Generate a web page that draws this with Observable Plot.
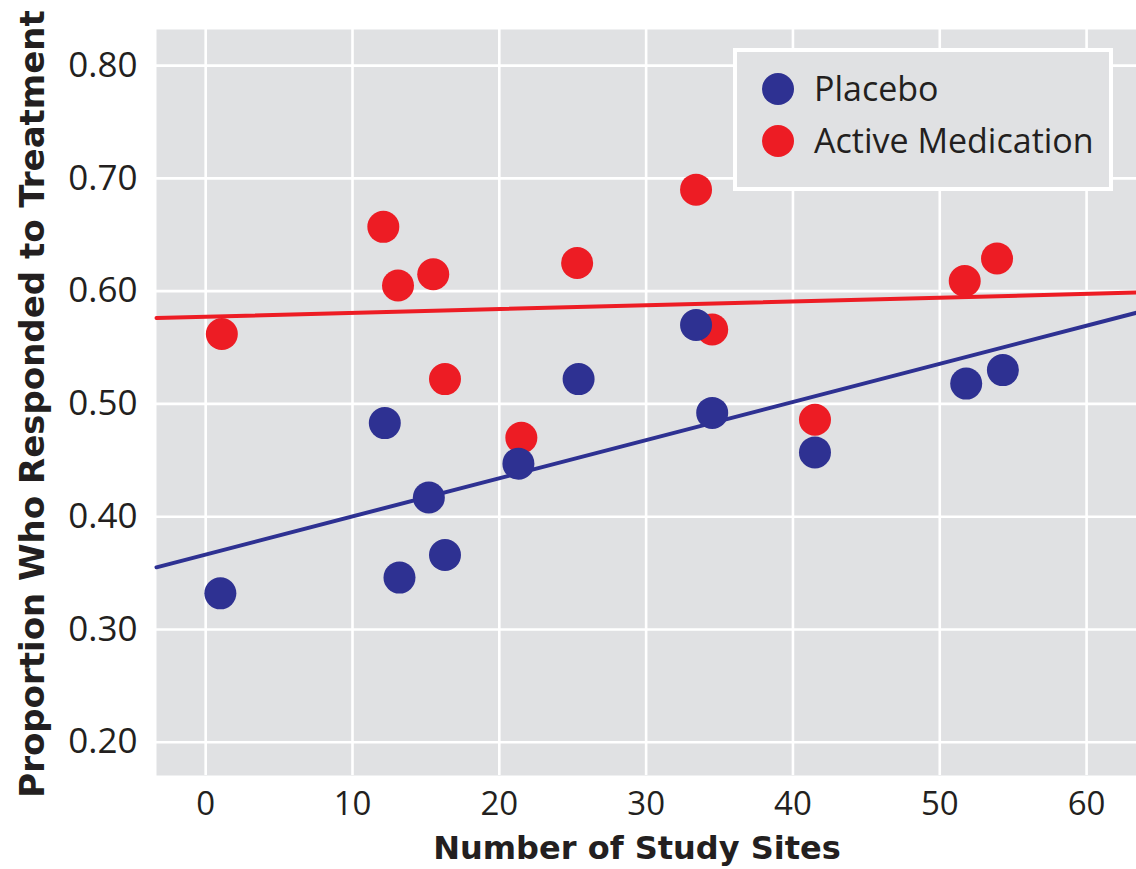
<!DOCTYPE html>
<html>
<head>
<meta charset="utf-8">
<script src="https://cdn.jsdelivr.net/npm/d3@7"></script>
<script src="https://cdn.jsdelivr.net/npm/@observablehq/plot@0.6"></script>
<style>
  html, body { margin: 0; padding: 0; background: #ffffff; }
  #wrap { position: relative; width: 1136px; height: 869px; overflow: hidden; }
  #legend { position: absolute; left: 0; top: 0; }
</style>
</head>
<body>
<div id="wrap"></div>
<script>
// ---- Data ----
const groups = ["Placebo", "Active Medication"];
const groupColors = ["#2e3192", "#ed1c24"];

const sitesPlacebo = [1.0, 12.2, 13.2, 15.2, 16.3, 21.3, 25.4, 33.4, 34.5, 41.5, 51.8, 54.3];
const respPlacebo  = [0.332, 0.483, 0.346, 0.417, 0.366, 0.447, 0.522, 0.570, 0.492, 0.457, 0.518, 0.530];

const sitesActive = [1.1, 12.1, 13.1, 15.5, 16.3, 21.5, 25.3, 33.4, 34.5, 41.5, 51.7, 53.9];
const respActive  = [0.562, 0.657, 0.605, 0.615, 0.522, 0.470, 0.625, 0.690, 0.566, 0.486, 0.609, 0.629];

const xTicks = [0, 10, 20, 30, 40, 50, 60];
const yTicks = [0.20, 0.30, 0.40, 0.50, 0.60, 0.70, 0.80];
const xDomain = [-3.35, 63.4];
const yDomain = [0.1705, 0.832];

const xTitle = "Number of Study Sites";
const yTitle = "Proportion Who Responded to Treatment";

// ---- Build tables ----
const placebo = sitesPlacebo.map((s, i) => ({group: groups[0], sites: s, resp: respPlacebo[i]}));
const active  = sitesActive.map((s, i) => ({group: groups[1], sites: s, resp: respActive[i]}));

// least-squares fit, drawn across the whole x domain
function fitLine(rows) {
  const mx = d3.mean(rows, d => d.sites), my = d3.mean(rows, d => d.resp);
  const sxy = d3.sum(rows, d => (d.sites - mx) * (d.resp - my));
  const sxx = d3.sum(rows, d => (d.sites - mx) ** 2);
  const b = sxy / sxx, a = my - b * mx;
  return xDomain.map(x => ({group: rows[0].group, sites: x, resp: a + b * x}));
}
const fitPlacebo = fitLine(placebo);
const fitActive = fitLine(active);

const FONT = "'Open Sans', 'Noto Sans', sans-serif";
const TITLE_FONT = "'DejaVu Sans', 'Open Sans', sans-serif";
const W = 1136, H = 869;
const mL = 156, mR = 0, mT = 29, mB = 94;

const chart = Plot.plot({
  width: W,
  height: H,
  marginLeft: mL,
  marginRight: mR,
  marginTop: mT,
  marginBottom: mB,
  style: {fontFamily: FONT, background: "#ffffff", color: "#231f20", overflow: "visible"},
  x: {domain: xDomain, ticks: xTicks, tickFormat: d3.format("d"), label: null},
  y: {domain: yDomain, ticks: yTicks, tickFormat: d3.format(".2f"), label: null},
  color: {domain: groups, range: groupColors},
  marks: [
    Plot.frame({fill: "#e0e1e3", stroke: null}),
    Plot.gridX(xTicks, {stroke: "#ffffff", strokeOpacity: 1, strokeWidth: 2.6}),
    Plot.gridY(yTicks, {stroke: "#ffffff", strokeOpacity: 1, strokeWidth: 2.6}),
    Plot.axisX(xTicks, {tickSize: 0, tickPadding: 16, fontSize: 33, label: null, fill: "#231f20"}),
    Plot.axisY(yTicks, {tickSize: 0, tickPadding: 19, fontSize: 35, label: null, fill: "#231f20", tickFormat: d3.format(".2f")}),
    Plot.line(fitActive, {x: "sites", y: "resp", stroke: groupColors[1], strokeWidth: 4}),
    Plot.line(fitPlacebo, {x: "sites", y: "resp", stroke: groupColors[0], strokeWidth: 4}),
    Plot.dot(active, {x: "sites", y: "resp", r: 16, fill: "group", stroke: null}),
    Plot.dot(placebo, {x: "sites", y: "resp", r: 16, fill: "group", stroke: null})
  ]
});

const wrap = document.getElementById("wrap");
wrap.appendChild(chart);

// Axis titles
const svg = d3.select(chart);
svg.append("text")
  .attr("x", 637).attr("y", 859)
  .attr("text-anchor", "middle")
  .attr("font-family", TITLE_FONT).attr("font-weight", 700).attr("font-size", 32)
  .attr("fill", "#231f20")
  .text(xTitle);
svg.append("text")
  .attr("transform", "translate(44,404) rotate(-90)")
  .attr("text-anchor", "middle")
  .attr("font-family", TITLE_FONT).attr("font-weight", 700).attr("font-size", 34)
  .attr("fill", "#231f20")
  .text(yTitle);

// Legend (overlay inside the plot area, top right)
const leg = d3.select(wrap).append("svg")
  .attr("id", "legend")
  .attr("width", W).attr("height", 220)
  .style("pointer-events", "none");
leg.append("rect")
  .attr("x", 735).attr("y", 50).attr("width", 376).attr("height", 139)
  .attr("fill", "#e0e1e3").attr("stroke", "#ffffff").attr("stroke-width", 4);
groups.forEach((g, i) => {
  const cy = 89 + i * 52;
  leg.append("circle").attr("cx", 778).attr("cy", cy).attr("r", 16).attr("fill", groupColors[i]);
  leg.append("text")
    .attr("x", 814).attr("y", cy + 12)
    .attr("font-family", FONT).attr("font-size", 34)
    .attr("fill", "#231f20")
    .text(g);
});
</script>
</body>
</html>
